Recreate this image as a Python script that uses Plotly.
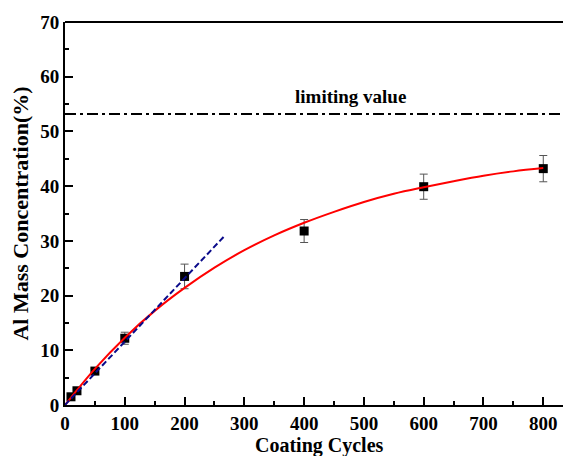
import plotly.graph_objects as go

# measured data
cycles = [10, 20, 50, 100, 200, 400, 600, 800]
al_conc = [1.5, 2.6, 6.2, 12.2, 23.5, 31.8, 39.9, 43.2]
al_err = [0.4, 0.4, 0.5, 1.1, 2.25, 2.1, 2.3, 2.4]

# fitted curve
fit_x = [0, 50, 100, 150, 200, 250, 300, 350, 400, 450, 500, 550, 600, 650, 700, 750, 800]
fit_y = [0, 6.6, 12.3, 17.2, 21.4, 25.1, 28.3, 31.0, 33.3, 35.3, 37.1, 38.6, 39.8, 40.9, 41.9, 42.7, 43.3]

# initial linear trend
lin_x = [0, 266]
lin_y = [0, 30.8]

limit_value = 53.2
limit_label = "limiting value"

x_title = "Coating Cycles"
y_title = "Al Mass Concentration(%)"

FONT = "Liberation Serif"

fig = go.Figure()

fig.add_trace(go.Scatter(
    x=cycles, y=al_conc, mode="markers",
    marker=dict(symbol="square", size=9, color="black"),
    error_y=dict(type="data", array=al_err, visible=True, color="#555555", thickness=1, width=4),
    showlegend=False,
))
fig.add_trace(go.Scatter(
    x=fit_x, y=fit_y, mode="lines", line=dict(color="red", width=2, shape="spline", smoothing=1.0),
    showlegend=False,
))
fig.add_trace(go.Scatter(
    x=lin_x, y=lin_y, mode="lines", line=dict(color="#0a0a8a", width=2, dash="6px,3px"),
    showlegend=False,
))

fig.add_hline(y=limit_value, line=dict(color="black", width=2, dash="11px,4px,3px,4px"))

fig.add_annotation(x=477, y=56.3, text=limit_label, showarrow=False,
                   font=dict(family=FONT, size=19, color="black", weight="bold"))

# x-axis title placed just below the tick labels, near the bottom edge as in the reference
fig.add_annotation(x=0.511, y=0, xref="paper", yref="paper", xanchor="center", yanchor="top",
                   yshift=-27, text=x_title, showarrow=False,
                   font=dict(family=FONT, size=20, color="black", weight="bold"))

# top spine
fig.add_shape(type="line", xref="paper", yref="paper", x0=0, x1=1, y0=1, y1=1,
              line=dict(color="black", width=2))

axis_common = dict(
    showgrid=False, zeroline=False, showline=True, linecolor="black", linewidth=2,
    ticks="inside", ticklen=8, tickwidth=2, tickcolor="black",
    tickfont=dict(family=FONT, size=19, color="black", weight="bold"),
)

fig.update_xaxes(range=[0, 833], dtick=100, tick0=0,
                 minor=dict(ticks="inside", ticklen=4, tickwidth=2, tickcolor="black", dtick=50),
                 **axis_common)
fig.update_yaxes(range=[0, 70], dtick=10, tick0=0,
                 minor=dict(ticks="inside", ticklen=4, tickwidth=2, tickcolor="black", dtick=5),
                 title=dict(text=y_title, font=dict(family=FONT, size=22, color="black", weight="bold"), standoff=6),
                 **axis_common)

fig.update_layout(
    width=563, height=456,
    margin=dict(l=65, r=0, t=22, b=51, autoexpand=False),
    plot_bgcolor="white", paper_bgcolor="white",
)

fig.write_html("out.html")
